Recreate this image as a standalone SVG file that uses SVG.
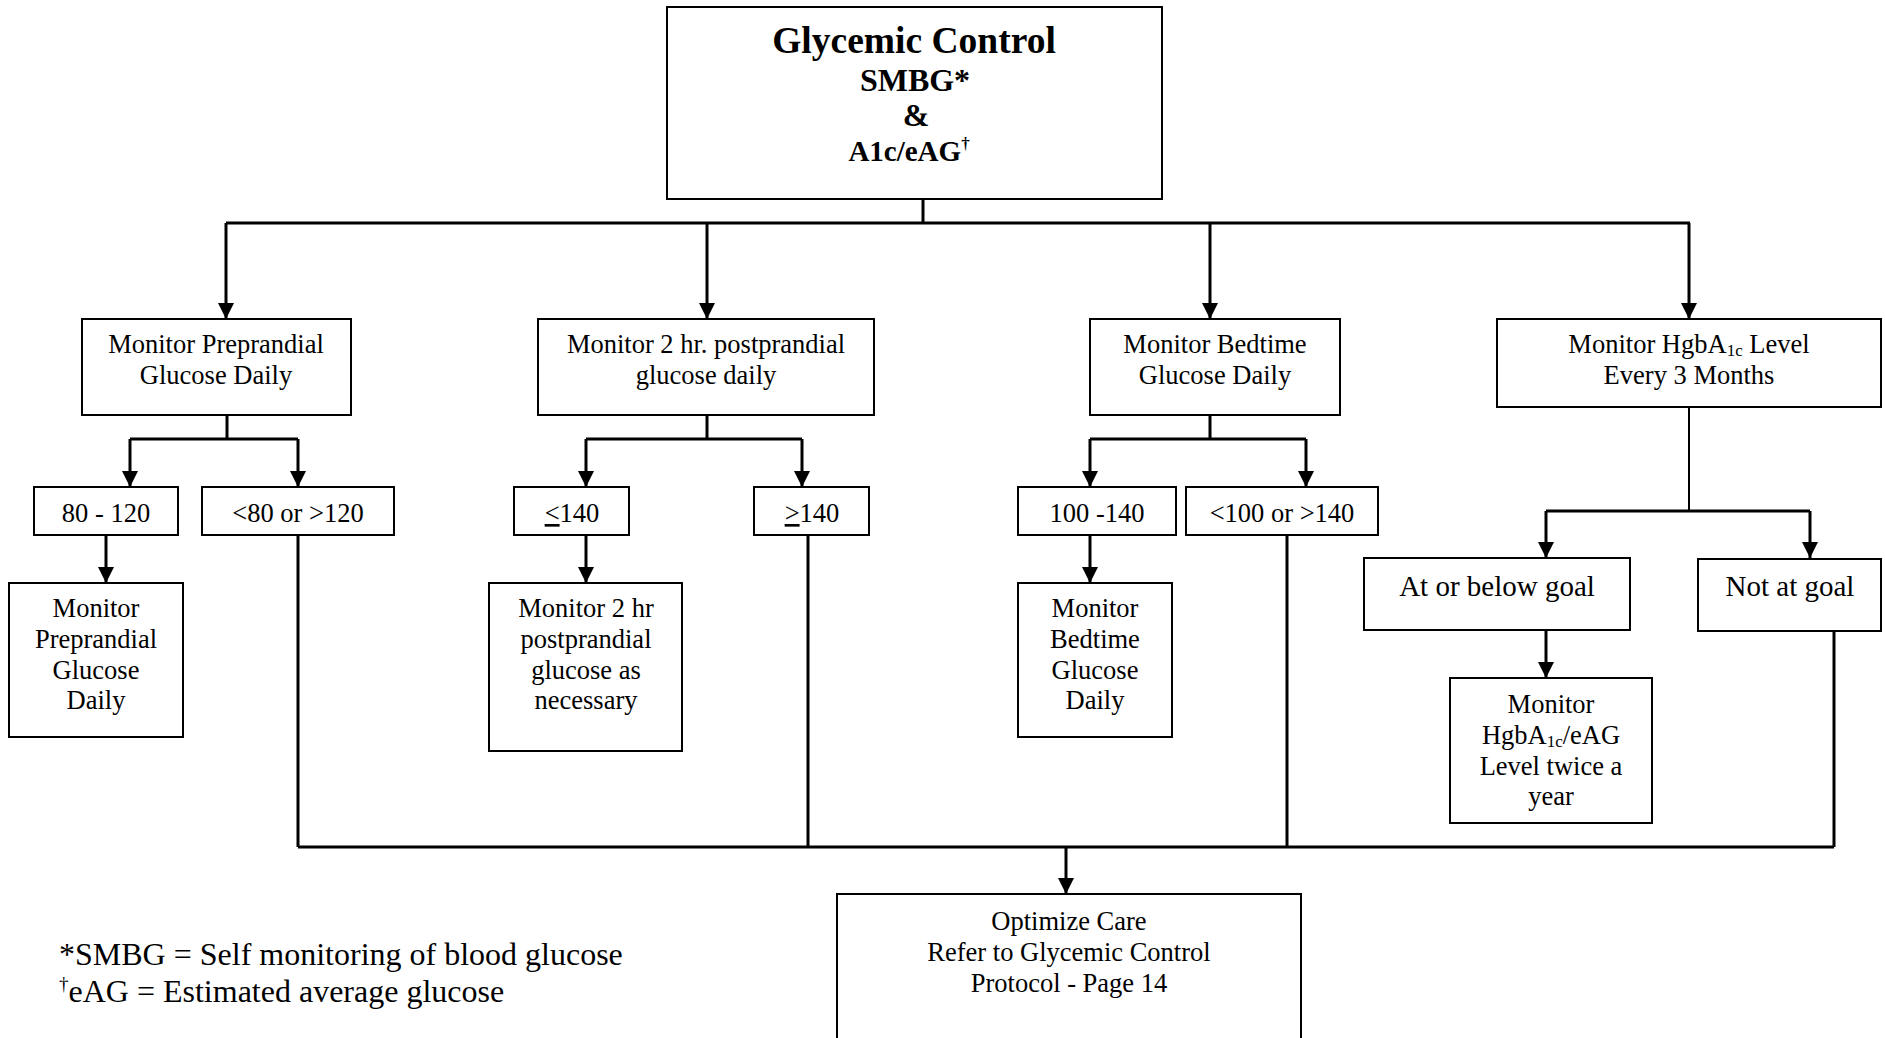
<svg xmlns="http://www.w3.org/2000/svg" width="1885" height="1038" viewBox="0 0 1885 1038">
  <style>
    .box { fill: #fff; stroke: #000; stroke-width: 2; }
    .t { font-family: "Liberation Serif", "Times New Roman", serif; font-size: 26.5px; fill: #000; text-anchor: middle; }
    .tb { font-family: "Liberation Serif", "Times New Roman", serif; font-weight: bold; fill: #000; text-anchor: middle; }
    .goal { font-size: 29px; }
    .note { font-family: "Liberation Serif", "Times New Roman", serif; font-size: 32px; fill: #000; }
    .wire { fill: none; stroke: #000; stroke-width: 3; }
    .thin { stroke-width: 2; }
    .sub { font-size: 17px; }
  </style>
  <defs>
    <marker id="arrow" markerUnits="userSpaceOnUse" markerWidth="16" markerHeight="16" refX="16" refY="8" orient="auto">
      <path d="M0,0 L16,8 L0,16 z" fill="#000"/>
    </marker>
  </defs>

  <rect width="1885" height="1038" fill="#fff"/>

  <!-- connectors -->
  <g id="connectors">
    <!-- top fan-out -->
    <path class="wire" d="M923,199 V223"/>
    <path class="wire" d="M226,223 H1690"/>
    <path class="wire" d="M226,223 V319" marker-end="url(#arrow)"/>
    <path class="wire" d="M707,223 V319" marker-end="url(#arrow)"/>
    <path class="wire" d="M1210,223 V319" marker-end="url(#arrow)"/>
    <path class="wire" d="M1689,223 V319" marker-end="url(#arrow)"/>

    <!-- preprandial branch -->
    <path class="wire" d="M227,415 V439 M130,439 H298"/>
    <path class="wire" d="M130,439 V487" marker-end="url(#arrow)"/>
    <path class="wire" d="M298,439 V487" marker-end="url(#arrow)"/>
    <path class="wire" d="M106,535 V583" marker-end="url(#arrow)"/>

    <!-- postprandial branch -->
    <path class="wire" d="M707,415 V439 M586,439 H802"/>
    <path class="wire" d="M586,439 V487" marker-end="url(#arrow)"/>
    <path class="wire" d="M802,439 V487" marker-end="url(#arrow)"/>
    <path class="wire" d="M586,535 V583" marker-end="url(#arrow)"/>

    <!-- bedtime branch -->
    <path class="wire" d="M1210,415 V439 M1090,439 H1306"/>
    <path class="wire" d="M1090,439 V487" marker-end="url(#arrow)"/>
    <path class="wire" d="M1306,439 V487" marker-end="url(#arrow)"/>
    <path class="wire" d="M1090,535 V583" marker-end="url(#arrow)"/>

    <!-- HgbA1c branch -->
    <path class="wire thin" d="M1689,407 V511"/>
    <path class="wire" d="M1546,511 H1810"/>
    <path class="wire" d="M1546,511 V558" marker-end="url(#arrow)"/>
    <path class="wire" d="M1810,511 V558" marker-end="url(#arrow)"/>
    <path class="wire" d="M1546,630 V678" marker-end="url(#arrow)"/>

    <!-- out-of-range paths merging into optimize care -->
    <path class="wire" d="M298,535 V847"/>
    <path class="wire" d="M808,535 V847"/>
    <path class="wire" d="M1287,535 V847"/>
    <path class="wire" d="M1834,631 V847"/>
    <path class="wire" d="M298,847 H1834"/>
    <path class="wire" d="M1066,847 V894" marker-end="url(#arrow)"/>
  </g>

  <!-- root -->
  <g id="glycemic-control">
    <rect class="box" x="667" y="7" width="495" height="192"/>
    <text class="tb" x="914" y="53" font-size="37.5">Glycemic Control</text>
    <text class="tb" x="915" y="91" font-size="32">SMBG*</text>
    <text class="tb" x="916" y="126" font-size="32">&amp;</text>
    <text class="tb" x="909" y="161" font-size="29">A1c/eAG<tspan font-size="17" dy="-12">†</tspan></text>
  </g>

  <!-- level 1 -->
  <g id="preprandial">
    <rect class="box" x="82" y="319" width="269" height="96"/>
    <text class="t" x="216" y="353">Monitor Preprandial</text>
    <text class="t" x="216" y="384">Glucose Daily</text>
  </g>
  <g id="postprandial">
    <rect class="box" x="538" y="319" width="336" height="96"/>
    <text class="t" x="706" y="353">Monitor 2 hr. postprandial</text>
    <text class="t" x="706" y="384">glucose daily</text>
  </g>
  <g id="bedtime">
    <rect class="box" x="1090" y="319" width="250" height="96"/>
    <text class="t" x="1215" y="353">Monitor Bedtime</text>
    <text class="t" x="1215" y="384">Glucose Daily</text>
  </g>
  <g id="hgba1c">
    <rect class="box" x="1497" y="319" width="384" height="88"/>
    <text class="t" x="1689" y="353">Monitor HgbA<tspan class="sub" dy="3">1c</tspan><tspan dy="-3"> Level</tspan></text>
    <text class="t" x="1689" y="384">Every 3 Months</text>
  </g>

  <!-- level 2 -->
  <g id="pre-in-range">
    <rect class="box" x="34" y="487" width="144" height="48"/>
    <text class="t" x="106" y="522">80 - 120</text>
  </g>
  <g id="pre-out-range">
    <rect class="box" x="202" y="487" width="192" height="48"/>
    <text class="t" x="298" y="522">&lt;80 or &gt;120</text>
  </g>
  <g id="post-in-range">
    <rect class="box" x="514" y="487" width="115" height="48"/>
    <text class="t" x="572" y="522"><tspan text-decoration="underline">&lt;</tspan>140</text>
  </g>
  <g id="post-out-range">
    <rect class="box" x="754" y="487" width="115" height="48"/>
    <text class="t" x="812" y="522"><tspan text-decoration="underline">&gt;</tspan>140</text>
  </g>
  <g id="bed-in-range">
    <rect class="box" x="1018" y="487" width="158" height="48"/>
    <text class="t" x="1097" y="522">100 -140</text>
  </g>
  <g id="bed-out-range">
    <rect class="box" x="1186" y="487" width="192" height="48"/>
    <text class="t" x="1282" y="522">&lt;100 or &gt;140</text>
  </g>
  <g id="at-goal">
    <rect class="box" x="1364" y="558" width="266" height="72"/>
    <text class="t goal" x="1497" y="596">At or below goal</text>
  </g>
  <g id="not-at-goal">
    <rect class="box" x="1698" y="559" width="183" height="72"/>
    <text class="t goal" x="1790" y="596">Not at goal</text>
  </g>

  <!-- level 3 -->
  <g id="pre-continue">
    <rect class="box" x="9" y="583" width="174" height="154"/>
    <text class="t" x="96" y="617">Monitor</text>
    <text class="t" x="96" y="648">Preprandial</text>
    <text class="t" x="96" y="679">Glucose</text>
    <text class="t" x="96" y="709">Daily</text>
  </g>
  <g id="post-continue">
    <rect class="box" x="489" y="583" width="193" height="168"/>
    <text class="t" x="586" y="617">Monitor 2 hr</text>
    <text class="t" x="586" y="648">postprandial</text>
    <text class="t" x="586" y="679">glucose as</text>
    <text class="t" x="586" y="709">necessary</text>
  </g>
  <g id="bed-continue">
    <rect class="box" x="1018" y="583" width="154" height="154"/>
    <text class="t" x="1095" y="617">Monitor</text>
    <text class="t" x="1095" y="648">Bedtime</text>
    <text class="t" x="1095" y="679">Glucose</text>
    <text class="t" x="1095" y="709">Daily</text>
  </g>
  <g id="hgba1c-continue">
    <rect class="box" x="1450" y="678" width="202" height="145"/>
    <text class="t" x="1551" y="713">Monitor</text>
    <text class="t" x="1551" y="744">HgbA<tspan class="sub" dy="3">1c</tspan><tspan dy="-3">/eAG</tspan></text>
    <text class="t" x="1551" y="775">Level twice a</text>
    <text class="t" x="1551" y="805">year</text>
  </g>

  <!-- outcome -->
  <g id="optimize-care">
    <rect class="box" x="837" y="894" width="464" height="160"/>
    <text class="t" x="1069" y="930">Optimize Care</text>
    <text class="t" x="1069" y="961">Refer to Glycemic Control</text>
    <text class="t" x="1069" y="992">Protocol - Page 14</text>
  </g>

  <!-- footnotes -->
  <g id="footnotes">
    <text class="note" x="59" y="965">*SMBG = Self monitoring of blood glucose</text>
    <text class="note" x="59" y="1002"><tspan font-size="19" dy="-12">†</tspan><tspan dy="12">eAG = Estimated average glucose</tspan></text>
  </g>
</svg>
